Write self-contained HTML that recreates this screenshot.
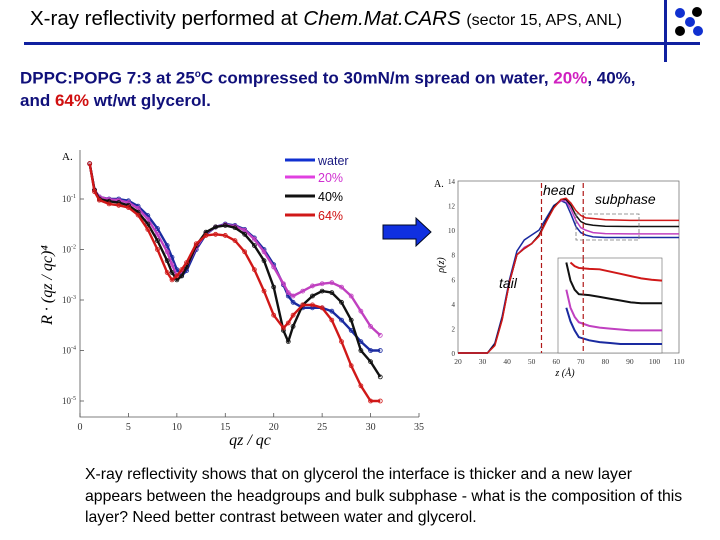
<!DOCTYPE html>
<html><head><meta charset="utf-8">
<style>
body{margin:0;width:720px;height:540px;background:#fff;overflow:hidden;position:relative;font-family:"Liberation Sans",sans-serif;}
.t{position:absolute;white-space:nowrap;}
</style></head>
<body>
<div class="t" style="left:30px;top:7px;font-size:20.5px;color:#000">X-ray reflectivity performed at <i>Chem.Mat.CARS</i> <span style="font-size:16px">(sector 15, APS, ANL)</span></div>
<div style="position:absolute;left:24px;top:42px;width:676px;height:3px;background:#1020a0"></div>
<div style="position:absolute;left:664px;top:0;width:3px;height:62px;background:#1020a0"></div>
<svg style="position:absolute;left:670px;top:0" width="50" height="45">
<circle cx="10" cy="13" r="5" fill="#1030d0"/><circle cx="27" cy="12" r="5" fill="#000"/><circle cx="20" cy="22" r="5" fill="#1030d0"/><circle cx="10" cy="31" r="5" fill="#000"/><circle cx="28" cy="31" r="5" fill="#1030d0"/></svg>
<div class="t" style="left:20px;top:64px;font-size:17px;font-weight:bold;color:#10107a;line-height:22px">DPPC:POPG 7:3 at 25<sup style="font-size:10px">o</sup>C compressed to 30mN/m spread on water, <span style="color:#d020c0">20%</span>, 40%,<br>and <span style="color:#d01010">64%</span> wt/wt glycerol.</div>
<div class="t" style="left:85px;top:464px;font-size:15.8px;color:#000;line-height:21.5px">X-ray reflectivity shows that on glycerol the interface is thicker and a new layer<br>appears between the headgroups and bulk subphase - what is the composition of this<br>layer? Need better contrast between water and glycerol.</div>
<svg id="left" style="position:absolute;left:0;top:0" width="720" height="540"></svg>
<script>
const ticksX=[0,5,10,15,20,25,30,35];
const ticksY=[-1,-2,-3,-4,-5];
const seriesNames=["water","20%","40%","64%"];
const seriesColors=["#1a2aa0","#c040c0","#111111","#d01818"];
const qx=[1,1.5,2,3,4,5,6,7,8,9,9.5,10,10.5,11,12,13,14,15,16,17,18,19,20,21,21.5,22,23,24,25,26,27,28,29,30,31];
const water=[0.5,0.15,0.11,0.1,0.1,0.092,0.072,0.047,0.026,0.012,0.007,0.004,0.003,0.0038,0.01,0.02,0.028,0.032,0.03,0.025,0.017,0.01,0.005,0.002,0.0012,0.0009,0.0007,0.0007,0.0007,0.0006,0.0004,0.00025,0.00015,0.0001,0.0001];
const p20=[0.5,0.15,0.11,0.098,0.095,0.085,0.065,0.04,0.02,0.009,0.005,0.003,0.0035,0.0045,0.011,0.021,0.028,0.031,0.029,0.024,0.016,0.009,0.0045,0.0021,0.0014,0.0012,0.0015,0.0019,0.0021,0.0022,0.0018,0.0012,0.0006,0.0003,0.0002];
const p40=[0.5,0.15,0.1,0.09,0.085,0.075,0.055,0.032,0.015,0.006,0.0035,0.0025,0.003,0.0045,0.012,0.022,0.028,0.03,0.027,0.02,0.012,0.006,0.0018,0.00025,0.00015,0.0003,0.0008,0.0012,0.0015,0.0014,0.0009,0.0004,0.0001,0.00006,0.00003];
const p64=[0.5,0.14,0.095,0.08,0.075,0.068,0.048,0.025,0.01,0.0035,0.0025,0.003,0.004,0.0055,0.013,0.019,0.02,0.019,0.015,0.009,0.004,0.0015,0.0005,0.00028,0.00035,0.0005,0.0008,0.0008,0.0007,0.0004,0.00015,0.00005,0.00002,0.00001,0.00001];
const allSeries=[water,p20,p40,p64];
const NS="http://www.w3.org/2000/svg";
const svg=document.getElementById('left');
function mk(tag,attrs,parent){const e=document.createElementNS(NS,tag);for(const k in attrs)e.setAttribute(k,attrs[k]);(parent||svg).appendChild(e);return e;}
const X=v=>80+v*(419-80)/35;
const Y=v=>199+(-1-Math.log10(v))*50.5;
let ax=mk('path',{d:'M80 150 V417 H419',stroke:'#555',fill:'none','stroke-width':0.8});


ticksX.forEach(t=>{mk('line',{x1:X(t),x2:X(t),y1:417,y2:413,stroke:'#555','stroke-width':0.8});
 const l=mk('text',{x:X(t),y:430,'font-size':10,'text-anchor':'middle','font-family':'Liberation Serif, serif',fill:'#333'});l.textContent=t;
 
 });
ticksY.forEach(t=>{const y=199+(-1-t)*50.5;mk('line',{x1:80,x2:84,y1:y,y2:y,stroke:'#555','stroke-width':0.8});
 const l=mk('text',{x:76,y:y+3,'font-size':9,'text-anchor':'end','font-family':'Liberation Serif, serif',fill:'#333'});l.innerHTML='10<tspan dy="-4" font-size="6">'+t+'</tspan>';
 
 });
let tA=mk('text',{x:62,y:160,'font-size':11,'font-family':'Liberation Serif, serif'});tA.textContent='A.';


let xt=mk('text',{x:250,y:445,'font-size':16,'font-style':'italic','text-anchor':'middle','font-family':'Liberation Serif, serif'});xt.textContent='qz / qc';


let yt=mk('text',{x:52,y:285,'font-size':16,'font-style':'italic','text-anchor':'middle','font-family':'Liberation Serif, serif',transform:'rotate(-90 52 285)'});yt.textContent='R · (qz / qc)⁴';


allSeries.forEach((s,i)=>{
 const p=mk('polyline',{points:s.map((v,j)=>X(qx[j])+','+Y(v)).join(' '),fill:'none',stroke:seriesColors[i],'stroke-width':2.4,'stroke-linejoin':'round'});
 
 
 s.forEach((v,j)=>{const c=mk('circle',{cx:X(qx[j]),cy:Y(v),r:2,fill:'none',stroke:seriesColors[i],'stroke-width':0.8});
 
 });
 const ly=[160,177,196,215][i];
 const ll=mk('line',{x1:285,x2:315,y1:ly,y2:ly,stroke:seriesColors[i]==='#c040c0'?'#e040e0':(i===0?'#1030d0':seriesColors[i]),'stroke-width':3});
 
 
 const lt=mk('text',{x:318,y:ly+5,'font-size':12.5,fill:['#1a1a80','#d030d0','#000','#d01010'][i]});lt.textContent=seriesNames[i];
 
 
});
let ar=mk('path',{d:'M383 225 H416 V218 L431 232 L416 246 V239 H383 Z',fill:'#1030e0',stroke:'#000820','stroke-width':1});



/* density profile chart */
const zTicks=[20,30,40,50,60,70,80,90,100,110];
const rhoTicks=[0,2,4,6,8,10,12,14];
const zv=[20,30,32,35,38,41,44,47,50,53,56,59,62,64,66,68,70,72,75,80,90,100,110];
const rWater=[0,0,0,0.8,3,6,8.3,9.2,9.6,10,11,12,12.4,12.2,11.3,10.3,9.8,9.6,9.45,9.4,9.4,9.4,9.4];
const r20=[0,0,0,0.7,2.8,5.8,8,8.6,8.9,9.6,10.8,11.9,12.4,12.4,11.7,10.8,10.2,10,9.8,9.72,9.7,9.7,9.7];
const r40=[0,0,0,0.7,2.8,5.8,8,8.5,8.9,9.6,10.8,11.9,12.5,12.5,12,11.2,10.7,10.5,10.4,10.32,10.3,10.3,10.3];
const r64=[0,0,0,0.6,2.7,5.8,8,8.5,8.9,9.5,10.7,11.8,12.5,12.6,12.2,11.6,11.2,11,10.95,10.85,10.8,10.8,10.8];
const rhoSeries=[rWater,r20,r40,r64];
const ZX=v=>458+(v-20)*(679-458)/90;
const RY=v=>353-v*(353-181)/14;
let ax2=mk('rect',{x:458,y:181,width:221,height:172,fill:'none',stroke:'#666','stroke-width':0.7});


zTicks.forEach(t=>{const l=mk('text',{x:ZX(t),y:364,'font-size':7.5,'text-anchor':'middle','font-family':'Liberation Serif, serif',fill:'#333'});l.textContent=t;
 
 });
rhoTicks.forEach(t=>{const l=mk('text',{x:455,y:RY(t)+3,'font-size':7,'text-anchor':'end','font-family':'Liberation Serif, serif',fill:'#333'});l.textContent=t;
 
 });
let tB=mk('text',{x:434,y:187,'font-size':10,'font-family':'Liberation Serif, serif'});tB.textContent='A.';


let zt=mk('text',{x:565,y:376,'font-size':10,'font-style':'italic','text-anchor':'middle','font-family':'Liberation Serif, serif'});zt.textContent='z (Å)';


let rt=mk('text',{x:444,y:265,'font-size':10,'font-style':'italic','text-anchor':'middle','font-family':'Liberation Serif, serif',transform:'rotate(-90 444 265)'});rt.textContent='ρ(z)';


rhoSeries.forEach((s,i)=>{const p=mk('polyline',{points:s.map((v,j)=>ZX(zv[j])+','+RY(v)).join(' '),fill:'none',stroke:seriesColors[i],'stroke-width':1.5});
 
 });
[54,71].forEach(z=>{const l=mk('line',{x1:ZX(z),x2:ZX(z),y1:183,y2:353,stroke:'#b01818','stroke-width':1.2,'stroke-dasharray':'5 3'});
 
 });
let bx=mk('rect',{x:576,y:214,width:63,height:26,fill:'none',stroke:'#777','stroke-width':0.8,'stroke-dasharray':'4 2'});


/* inset */
const iz=[60,64,66,68,70,75,80,85,90,95,100,105,110];
const iWater=[11.5,10.2,9.9,9.7,9.55,9.48,9.44,9.42,9.4,9.4,9.4,9.4,9.4];
const i20=[11.5,10.6,10.2,10,9.88,9.8,9.76,9.74,9.72,9.7,9.7,9.7,9.7];
const i40=[11.5,11.2,10.8,10.6,10.5,10.48,10.44,10.4,10.36,10.32,10.3,10.3,10.3];
const i64=[11.5,11.4,11.2,11.12,11.08,11.06,11.05,11,10.95,10.9,10.85,10.82,10.8];
const insetSeries=[iWater,i20,i40,i64];
const IX=v=>558+(v-60)*(662-558)/50;
const IY=v=>258+(11.3-v)*(353-258)/(11.3-9.2);
let ib=mk('rect',{x:558,y:258,width:104,height:95,fill:'#fff',stroke:'#666','stroke-width':0.6});


insetSeries.forEach((s,i)=>{const pts=[];s.forEach((v,j)=>{const y=IY(v);if(y>=258)pts.push(IX(iz[j])+','+y);});
 const p=mk('polyline',{points:pts.join(' '),fill:'none',stroke:seriesColors[i],'stroke-width':2});
 
 });
let ld=mk('line',{x1:ZX(71),x2:ZX(71),y1:258,y2:353,stroke:'#b01818','stroke-width':1.2,'stroke-dasharray':'5 3'});


[['head',543,195,'region-head'],['subphase',595,204,'region-subphase'],['tail',499,288,'region-tail']].forEach(a=>{
 const t=mk('text',{x:a[1],y:a[2],'font-size':14,'font-style':'italic',fill:'#000'});t.textContent=a[0];
 
 });
</script>
</body></html>
